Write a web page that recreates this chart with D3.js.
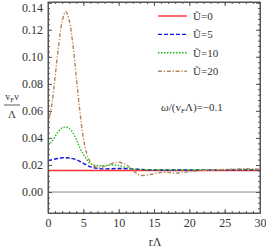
<!DOCTYPE html>
<html>
<head>
<meta charset="utf-8">
<script src="https://cdn.jsdelivr.net/npm/d3@7"></script>
<style>
  body { margin: 0; background: #fff; }
  text { font-family: "Liberation Serif", "DejaVu Serif", serif; fill: #333; }
</style>
</head>
<body>
<div id="chart"></div>
<script>
"use strict"

// data
var seriesNames = ["Ũ=0", "Ũ=5", "Ũ=10", "Ũ=20"];
var r0  = [0, 30];
var u0  = [0.0159, 0.0159];
var r5  = [0, 1, 2, 2.5, 3, 4, 5, 6, 7, 8, 10, 12, 14, 16, 20, 25, 30];
var u5  = [0.0232, 0.0244, 0.0253, 0.0254, 0.0252, 0.0240, 0.0212, 0.0186, 0.0175, 0.0171, 0.0174, 0.0170, 0.0165, 0.0163, 0.0163, 0.0164, 0.0165];
var r10 = [0, 0.5, 1, 1.5, 2, 2.5, 3, 3.5, 4, 4.5, 5, 5.5, 6, 7, 8, 9, 10, 11, 12, 14, 16, 20, 25, 30];
var u10 = [0.0345, 0.037, 0.041, 0.045, 0.0475, 0.048, 0.047, 0.044, 0.039, 0.033, 0.028, 0.024, 0.021, 0.0195, 0.0195, 0.0200, 0.0196, 0.0182, 0.0171, 0.0165, 0.0165, 0.0165, 0.0166, 0.0166];
var r20 = [0, 0.5, 1, 1.5, 2, 2.5, 3, 3.5, 4, 4.5, 5, 5.5, 6, 6.5, 7, 7.5, 8, 9, 10, 11, 12, 13, 14, 15, 16, 17, 18, 19, 20, 22, 24, 26, 28, 30];
var u20 = [0.050, 0.063, 0.085, 0.108, 0.126, 0.1335, 0.127, 0.110, 0.085, 0.060, 0.040, 0.028, 0.022, 0.019, 0.0185, 0.0185, 0.019, 0.021, 0.022, 0.0205, 0.016, 0.0125, 0.0125, 0.0135, 0.0145, 0.0145, 0.014, 0.0145, 0.015, 0.016, 0.0165, 0.0168, 0.0172, 0.0168];
var xTicks = [0, 5, 10, 15, 20, 25, 30];
var yTicks = [0, 0.02, 0.04, 0.06, 0.08, 0.10, 0.12, 0.14];

var colors = ["#ff3030", "#1010e0", "#20b820", "#b3875a"];
var dashes = [null, "4,2", "1.5,1.5", "4,1.8,1.2,1.8"];

var width = 266, height = 249;
var margin = {top: 2, right: 6, bottom: 36, left: 48};
var w = width - margin.left - margin.right,
    h = height - margin.top - margin.bottom;

var svg = d3.select("#chart").append("svg")
    .attr("width", width)
    .attr("height", height);
var g = svg.append("g")
    .attr("transform", "translate(" + margin.left + "," + margin.top + ")");

var x = d3.scaleLinear().domain([0, 30]).range([0, w]);
var y = d3.scaleLinear().domain([-0.0155, 0.1405]).range([h, 0]);

// zero line
g.append("line")
  .attr("x1", 0).attr("x2", w)
  .attr("y1", y(0)).attr("y2", y(0))
  .attr("stroke", "#888").attr("stroke-width", 1);

// curves
var series = [[r0, u0], [r5, u5], [r10, u10], [r20, u20]];
var line = d3.line()
    .x(function(d) { return x(d[0]); })
    .y(function(d) { return y(d[1]); })
    .curve(d3.curveCatmullRom.alpha(0.5));
svg.append("clipPath").attr("id", "clip")
  .append("rect").attr("width", w).attr("height", h);
var plot = g.append("g").attr("clip-path", "url(#clip)");
series.forEach(function(s, i) {
  var pts = s[0].map(function(r, j) { return [r, s[1][j]]; });
  plot.append("path")
    .attr("d", line(pts))
    .attr("fill", "none")
    .attr("stroke", colors[i])
    .attr("stroke-width", 1.4)
    .attr("stroke-dasharray", dashes[i]);
});

// frame with inward ticks on all four sides
var xMinor = d3.range(0, 30.01, 1);
var yMinor = d3.range(-0.012, 0.1401, 0.004);

var frame = g.append("g").attr("class", "frame");
function addAxis(fn, scale, vals, size, fmt, transform) {
  var a = frame.append("g").attr("transform", transform)
    .call(fn(scale).tickValues(vals).tickSizeInner(-size).tickSizeOuter(0).tickPadding(5).tickFormat(fmt));
  a.selectAll("path, line").attr("stroke", "#555");
  a.selectAll("text").attr("font-size", 12).attr("fill", "#333")
    .style("font-family", "Liberation Serif, serif");
  return a;
}
addAxis(d3.axisBottom, x, xMinor, 2, "", "translate(0," + h + ")");
addAxis(d3.axisBottom, x, xTicks, 4, d3.format("d"), "translate(0," + h + ")");
addAxis(d3.axisTop, x, xMinor, 2, "", "translate(0,0)");
addAxis(d3.axisTop, x, xTicks, 4, "", "translate(0,0)");
addAxis(d3.axisLeft, y, yMinor, 2, "", "translate(0,0)");
var yAx = addAxis(d3.axisLeft, y, yTicks, 4, d3.format(".2f"), "translate(0,0)");
// keep the top label inside the picture
yAx.selectAll("text").filter(function(d) { return d > 0.13; }).attr("dy", "0.75em");
addAxis(d3.axisRight, y, yMinor, 2, "", "translate(" + w + ",0)");
addAxis(d3.axisRight, y, yTicks, 4, "", "translate(" + w + ",0)");
frame.append("rect").attr("width", w).attr("height", h)
  .attr("fill", "none").attr("stroke", "#555").attr("stroke-width", 1);

// axis labels
svg.append("text").attr("x", 155).attr("y", 246)
  .attr("text-anchor", "middle").attr("font-size", 12)
  .text("rΛ");
var yl = svg.append("text").attr("x", 12).attr("y", 100)
  .attr("text-anchor", "middle").attr("font-size", 10);
yl.append("tspan").text("v");
yl.append("tspan").attr("font-size", 7).attr("dy", 2).text("F");
yl.append("tspan").attr("dy", -2).text("ν");
svg.append("line").attr("x1", 4).attr("x2", 20).attr("y1", 105).attr("y2", 105)
  .attr("stroke", "#333").attr("stroke-width", 0.8);
svg.append("text").attr("x", 12).attr("y", 118)
  .attr("text-anchor", "middle").attr("font-size", 11)
  .text("Λ");

// legend
var legend = svg.append("g");
seriesNames.forEach(function(name, i) {
  var ly = 16 + i * 18.4;
  legend.append("line")
    .attr("x1", 158).attr("x2", 187).attr("y1", ly).attr("y2", ly)
    .attr("stroke", colors[i]).attr("stroke-width", 1.4)
    .attr("stroke-dasharray", dashes[i]);
  legend.append("text")
    .attr("x", 193).attr("y", ly + 4)
    .attr("font-size", 11)
    .text(name);
});

// annotation
var ann = svg.append("text").attr("x", 161).attr("y", 111).attr("font-size", 11);
ann.append("tspan").attr("font-style", "italic").text("ω");
ann.append("tspan").text("/(v");
ann.append("tspan").attr("font-size", 7).attr("dy", 2).text("F");
ann.append("tspan").attr("dy", -2).text("Λ)=−0.1");
</script>
</body>
</html>
